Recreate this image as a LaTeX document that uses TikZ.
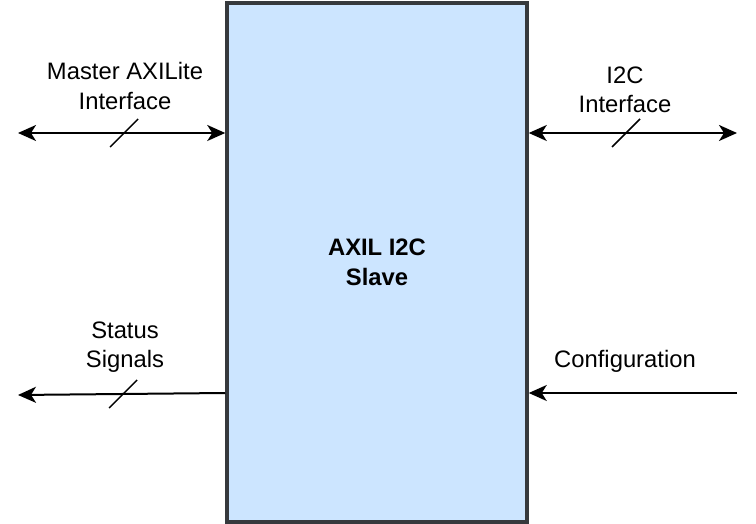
\documentclass[tikz,border=0pt]{standalone}
\usepackage{fontspec}
\setmainfont{Liberation Sans}
\usepackage{xcolor}
\definecolor{blockfill}{HTML}{CCE5FF}
\definecolor{blockline}{HTML}{36393D}
\usetikzlibrary{arrows.meta,positioning}

\begin{document}
\begin{tikzpicture}[
  x=1pt, y=-1pt,
  font=\fontsize{23.8}{29.5}\selectfont,
  block/.style={draw=blockline, fill=blockfill, line width=3.5pt,
                minimum width=300pt, minimum height=519pt, inner sep=0pt,
                align=center, font=\fontsize{23.8}{29.5}\selectfont\bfseries},
  lbl/.style={align=center, inner sep=0pt},
  link/.style={line width=2pt},
  bus/.style={line width=1.5pt},
  >={Stealth[length=18pt, width=16pt, inset=5pt]}
]
\useasboundingbox (0,0) rectangle (756,524);

\node[block] (slave) at (377,262.5) {AXIL I2C\\Slave};

\coordinate (mst) at (18,133);
\coordinate (i2c) at (737,133);
\coordinate (sts) at (18,395);
\coordinate (cfg) at (737,393);

\node[lbl] (mstlbl) at (125,86) {Master AXILite\\Interface};
\node[lbl] (i2clbl) at (625,90) {I2C\\Interface};
\node[lbl] (stslbl) at (125,347) {Status\\Signals};
\node[lbl, anchor=base] (cfglbl) at (625,367) {Configuration};

\draw[link,<->] (mst) -- coordinate[pos=0.512] (mstbus) (mst -| slave.west);
\draw[link,<->] (i2c -| slave.east) -- coordinate[pos=0.467] (i2cbus) (i2c);
\draw[link,->] (slave.west |- cfg) -- coordinate[pos=0.493] (stsbus) (sts);
\draw[link,->] (cfg) -- (cfg -| slave.east);

% bus width marks
\draw[bus] (mstbus) +(-14,14) -- +(14,-14);
\draw[bus] (i2cbus) +(-14,14) -- +(14,-14);
\draw[bus] (stsbus) +(-14,14) -- +(14,-14);
\end{tikzpicture}
\end{document}
